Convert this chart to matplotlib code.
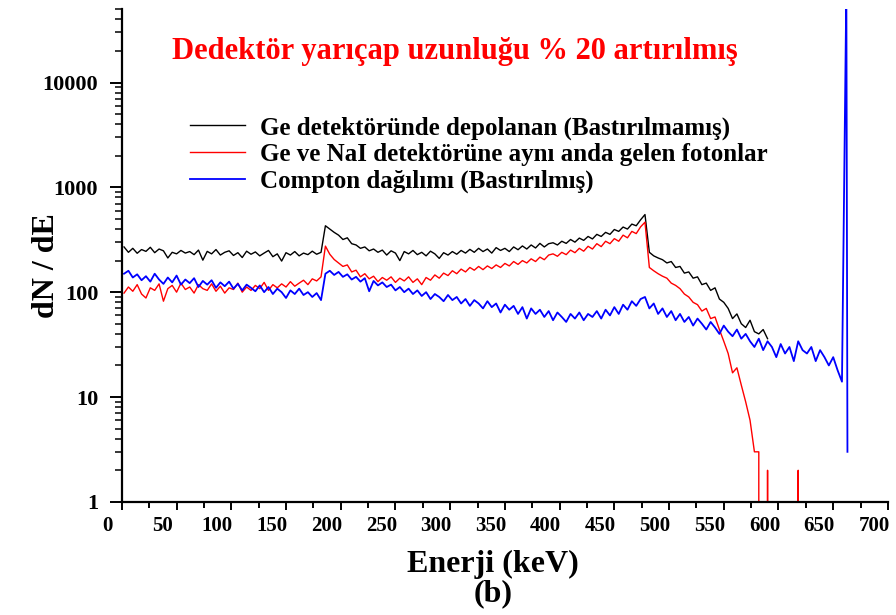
import numpy as np
import matplotlib
matplotlib.use("Agg")
import matplotlib.pyplot as plt
from matplotlib.ticker import LogLocator, MultipleLocator, FixedLocator, NullFormatter
from matplotlib.transforms import ScaledTranslation

plt.rcParams['font.family'] = ['Liberation Serif', 'DejaVu Serif']
plt.rcParams['font.weight'] = 'bold'

# enerji kanallari (keV), 4 keV aralik
enerji = np.arange(2, 663, 4)

# Ge detektorunde depolanan (bastirilmamis), 2..590 keV
siyah = [270, 240, 262, 235, 255, 245, 268, 238, 258, 248,
         212, 240, 232, 250, 236, 244, 228, 252, 202, 245,
         232, 255, 226, 240, 248, 224, 238, 214, 246, 230,
         242, 222, 236, 250, 218, 232, 198, 238, 226, 244,
         222, 236, 228, 246, 230, 240, 430, 400, 372, 350,
         318, 330, 290, 282, 262, 270, 248, 258, 240, 252,
         226, 248, 236, 200, 244, 232, 250, 228, 240, 222,
         246, 232, 210, 238, 226, 244, 230, 250, 236, 256,
         240, 262, 244, 258, 236, 266, 250, 262, 244, 270,
         254, 276, 258, 282, 264, 292, 270, 290, 296, 282,
         306, 292, 318, 300, 328, 312, 340, 322, 356, 340,
         372, 356, 396, 380, 418, 400, 446, 430, 490, 550,
         240, 222, 212, 204, 190, 196, 172, 176, 152, 156,
         136, 140, 118, 122, 104, 110, 86, 80, 70, 56,
         62, 50, 46, 54, 42, 40, 44, 36]

# Ge ve NaI detektorune ayni anda gelen fotonlar, 2..622 keV
kirmizi = [98, 112, 102, 118, 96, 88, 110, 104, 120, 82,
           108, 116, 100, 122, 106, 112, 98, 118, 108, 104,
           120, 102, 114, 98, 110, 106, 122, 100, 112, 104,
           116, 108, 124, 104, 118, 110, 120, 112, 126, 114,
           122, 130, 118, 134, 128, 140, 275, 230, 205, 190,
           176, 182, 156, 162, 140, 150, 134, 142, 126, 138,
           130, 140, 124, 136, 128, 140, 124, 134, 118, 138,
           130, 146, 136, 152, 144, 160, 150, 166, 156, 172,
           162, 176, 164, 178, 168, 182, 172, 188, 178, 196,
           184, 200, 190, 208, 196, 216, 204, 226, 232, 220,
           240, 228, 252, 238, 262, 246, 274, 258, 290, 272,
           306, 290, 324, 306, 350, 330, 380, 362, 420, 465,
           172, 160, 150, 142, 136, 122, 116, 108, 96, 90,
           80, 76, 66, 70, 56, 58, 44, 34, 26, 17,
           19, 13, 9, 6, 3, 3, 0, 2, 0, 0,
           0, 0, 0, 0, 2, 0]

# Compton dagilimi (bastirilmis), 2..662 keV + fotopik sonrasi
mavi = [150, 160, 138, 148, 130, 142, 126, 150, 132, 120,
        138, 124, 144, 118, 132, 122, 136, 112, 128, 118,
        130, 110, 124, 114, 126, 108, 120, 104, 118, 110,
        102, 116, 100, 112, 96, 108, 100, 88, 104, 96,
        108, 94, 100, 90, 98, 84, 150, 160, 146, 156,
        140, 148, 132, 140, 126, 136, 102, 128, 116, 124,
        112, 118, 104, 112, 100, 108, 96, 104, 92, 100,
        86, 96, 90, 82, 94, 84, 90, 78, 86, 74,
        84, 78, 70, 82, 72, 78, 64, 76, 68, 74,
        62, 72, 56, 70, 62, 68, 58, 66, 54, 64,
        58, 52, 62, 56, 64, 54, 62, 58, 66, 56,
        68, 60, 72, 62, 76, 68, 82, 74, 86, 90,
        70, 78, 62, 70, 58, 66, 54, 62, 52, 58,
        48, 56, 50, 44, 52, 46, 40, 48, 42, 38,
        44, 36, 40, 34, 30, 36, 28, 34, 30, 24,
        32, 26, 30, 22, 34, 28, 26, 30, 22, 28,
        24, 20, 24, 18, 14, 80000, 3]
mavi_enerji = np.append(enerji, 663)

etiketler = ['Ge detektöründe depolanan (Bastırılmamış)',
             'Ge ve NaI detektörüne aynı anda gelen fotonlar',
             'Compton dağılımı (Bastırılmış)']

fig = plt.figure(figsize=(8.96, 6.15), dpi=100)
ax = fig.add_axes([0.136, 0.184, 0.855, 0.801])

ax.plot(enerji[:len(siyah)], siyah, color='black', lw=1.0, label=etiketler[0])
ax.plot(enerji[:len(kirmizi)], kirmizi, color='red', lw=1.0, label=etiketler[1])
ax.plot(mavi_enerji, mavi, color='blue', lw=1.3, label=etiketler[2])

ax.set_yscale('log', nonpositive='clip')
ax.set_xlim(0, 700)
ax.set_ylim(1, 5e4)

ax.yaxis.set_major_locator(FixedLocator([1, 10, 100, 1000, 10000]))
ax.yaxis.set_minor_locator(LogLocator(base=10, subs=np.arange(2, 10)))
ax.yaxis.set_minor_formatter(NullFormatter())
ax.set_yticklabels(['1', '10', '100', '1000', '10000'])
ax.xaxis.set_major_locator(MultipleLocator(50))
ax.xaxis.set_minor_locator(MultipleLocator(25))

for s in ['top', 'right']:
    ax.spines[s].set_visible(False)
for s in ['left', 'bottom']:
    ax.spines[s].set_linewidth(1.6)

ax.tick_params(axis='y', which='major', length=9, width=1.4, pad=8, labelsize=16)
ax.tick_params(axis='y', which='minor', length=5, width=1.1)
ax.tick_params(axis='x', which='major', length=6, width=1.4, pad=4, labelsize=15)
ax.tick_params(axis='x', which='minor', length=4, width=1.4)

# x etiketleri orijinalde sola kaymis
kaydir = ScaledTranslation(-0.14, 0, fig.dpi_scale_trans)
for lab in ax.get_xticklabels():
    lab.set_transform(lab.get_transform() + kaydir)

fig.text(0.508, 0.917, 'Dedektör yarıçap uzunluğu % 20 artırılmış', color='red',
         fontsize=22, fontweight='bold', ha='center', va='center')
fig.text(0.052, 0.569, 'dN / dE', rotation=90, fontsize=23, fontweight='bold',
         ha='center', va='center')
fig.text(0.55, 0.083, 'Enerji (keV)', fontsize=23, fontweight='bold', ha='center', va='center')
fig.text(0.55, 0.035, '(b)', fontsize=23, fontweight='bold', ha='center', va='center')

ax.legend(loc='upper left', bbox_to_anchor=(0.212, 0.811), bbox_transform=fig.transFigure,
          frameon=False, fontsize=18, handlelength=2.2, handletextpad=0.6,
          labelspacing=0.14, borderpad=0, borderaxespad=0)

fig.savefig('out.png', dpi=100)
